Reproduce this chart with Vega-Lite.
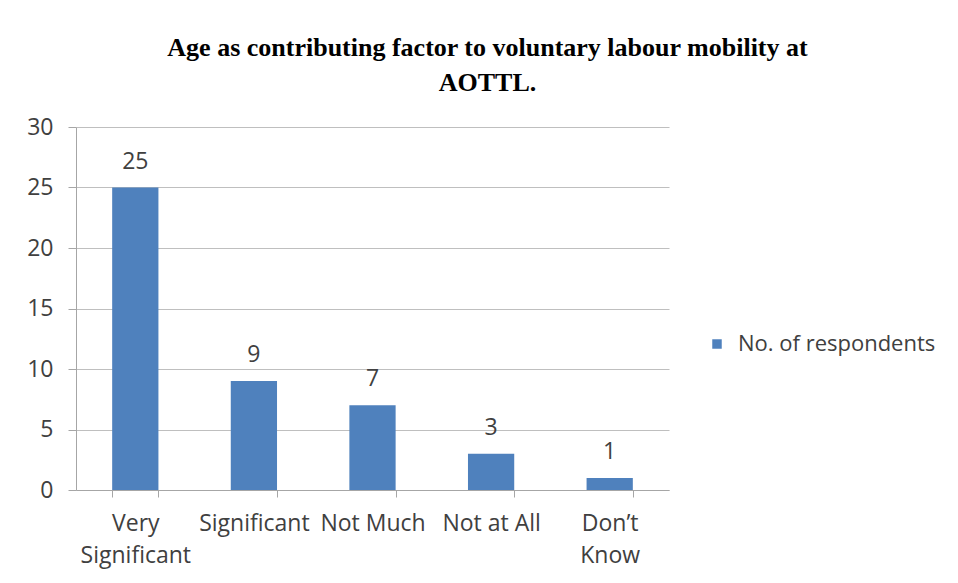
{
  "$schema": "https://vega.github.io/schema/vega-lite/v6.json",
  "autosize": "none",
  "width": 593,
  "height": 363,
  "padding": {"left": 76, "top": 127, "right": 289, "bottom": 93},
  "background": "white",
  "title": {
    "text": ["Age as contributing  factor to voluntary labour mobility  at", "AOTTL."],
    "anchor": "middle",
    "frame": "group",
    "dx": 115,
    "offset": 20,
    "font": "Liberation Serif",
    "fontSize": 26,
    "fontWeight": "bold",
    "color": "#000000",
    "lineHeight": 35
  },
  "data": {
    "values": [
      {"category": "Very Significant", "series": "No. of respondents", "value": 25},
      {"category": "Significant", "series": "No. of respondents", "value": 9},
      {"category": "Not Much", "series": "No. of respondents", "value": 7},
      {"category": "Not at All", "series": "No. of respondents", "value": 3},
      {"category": "Don’t Know", "series": "No. of respondents", "value": 1}
    ]
  },
  "encoding": {
    "x": {
      "field": "category",
      "type": "nominal",
      "sort": null,
      "title": null,
      "scale": {"paddingInner": 0.61, "paddingOuter": 0.305},
      "axis": {
        "labelAngle": 0,
        "tickBand": "extent",
        "labelExpr": "datum.label == 'Very Significant' ? ['Very', 'Significant'] : datum.label == 'Don’t Know' ? ['Don’t', 'Know'] : datum.label",
        "labelFont": "Open Sans",
        "labelFontSize": 23,
        "labelColor": "#404040",
        "labelLineHeight": 32,
        "labelPadding": 15,
        "labelBaseline": "top",
        "labelLimit": 300,
        "tickSize": 7,
        "tickColor": "#A6A6A6",
        "domainColor": "#A6A6A6",
        "grid": false
      }
    },
    "y": {
      "field": "value",
      "type": "quantitative",
      "title": null,
      "scale": {"domain": [0, 30]},
      "axis": {
        "values": [0, 5, 10, 15, 20, 25, 30],
        "labelFont": "Open Sans",
        "labelFontSize": 23,
        "labelColor": "#404040",
        "labelPadding": 15,
        "tickSize": 8,
        "tickColor": "#A6A6A6",
        "domainColor": "#A6A6A6",
        "gridColor": "#BFBFBF",
        "gridWidth": 1
      }
    }
  },
  "layer": [
    {
      "mark": {"type": "bar", "color": "#4F81BD"},
      "encoding": {
        "color": {
          "field": "series",
          "type": "nominal",
          "scale": {"range": ["#4F81BD"]},
          "legend": {
            "title": null,
            "orient": "none",
            "legendX": 630,
            "legendY": 206,
            "symbolType": "square",
            "symbolSize": 90,
            "labelFont": "Open Sans",
            "labelFontSize": 22,
            "labelColor": "#404040",
            "labelOffset": 10,
            "labelLimit": 400
          }
        }
      }
    },
    {
      "mark": {"type": "text", "baseline": "bottom", "dy": -14, "font": "Open Sans", "fontSize": 23, "color": "#404040"},
      "encoding": {"text": {"field": "value", "type": "quantitative"}}
    }
  ],
  "config": {"view": {"stroke": null}}
}
